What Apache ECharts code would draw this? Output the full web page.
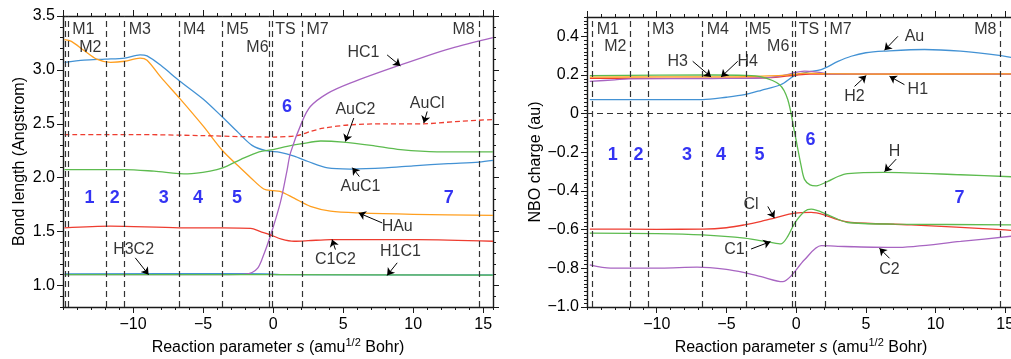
<!DOCTYPE html>
<html>
<head>
<meta charset="utf-8">
<script src="https://cdn.jsdelivr.net/npm/echarts@6/dist/echarts.min.js"></script>
<style>
html, body { margin: 0; padding: 0; background: #fff; }
#main { width: 1011px; height: 359px; }
</style>
</head>
<body>
<div id="main"></div>
<script>
// ---- left panel : bond lengths (Angstrom) vs s ----
var AuC1 = [[-14.9,3.07],[-13.5,3.09],[-12,3.10],[-10.6,3.11],[-9.5,3.14],[-9,3.13],[-8,3.04],[-6.7,2.90],[-5,2.73],[-3.6,2.56],[-2.5,2.42],[-1.5,2.30],[-0.5,2.25],[0.5,2.235],[1.5,2.20],[2.5,2.15],[3.9,2.09],[5.5,2.08],[8,2.09],[10,2.11],[12.5,2.13],[14.7,2.145],[15.7,2.16]];
var HAu = [[-14.9,3.28],[-14.4,3.265],[-13.5,3.18],[-12.6,3.10],[-11.6,3.07],[-10.6,3.08],[-9.5,3.11],[-9,3.09],[-8,2.93],[-6.7,2.74],[-5,2.48],[-3.6,2.25],[-2.5,2.11],[-1.6,2.00],[-0.67,1.895],[0,1.88],[0.5,1.873],[1.5,1.81],[2.66,1.734],[4.1,1.69],[6.2,1.673],[10,1.66],[15.7,1.65]];
var AuCl = [[-14.9,2.40],[-10,2.40],[-5,2.39],[-2,2.38],[0,2.377],[1.7,2.39],[2.7,2.43],[3.6,2.46],[5.5,2.49],[8,2.50],[10.7,2.50],[13,2.52],[15.7,2.54]];
var AuC2 = [[-14.9,2.074],[-12,2.075],[-10.6,2.075],[-8.5,2.06],[-6.1,2.036],[-4.5,2.06],[-3.6,2.09],[-2.3,2.17],[-1,2.24],[0,2.26],[1,2.29],[2.07,2.315],[3.4,2.34],[5,2.33],[7,2.30],[9.1,2.26],[11.7,2.24],[15.7,2.24]];
var HC1 = [[-14.9,1.10],[-5,1.10],[-2,1.105],[-1.5,1.12],[-1.1,1.16],[-0.8,1.24],[-0.2,1.456],[0.52,1.77],[1.0,2.07],[1.24,2.23],[2.07,2.52],[2.66,2.66],[3.86,2.78],[5.5,2.877],[9.1,3.046],[12.7,3.20],[15.7,3.30]];
var C1C2 = [[-14.9,1.534],[-11.6,1.55],[-6.7,1.535],[-3.6,1.535],[-1.6,1.53],[-0.9,1.50],[-0.2,1.47],[0.6,1.43],[1.5,1.41],[2.5,1.415],[4.1,1.426],[10.3,1.426],[15.7,1.41]];
var HC2 = [[-14.9,1.108],[-2,1.11],[-0.5,1.107],[0.5,1.10],[15.7,1.097]];
var H1C1 = [[-14.9,1.10],[0,1.10],[15.7,1.095]];

// ---- right panel : NBO charges ----
var qAu = [[-14.8,0.0725],[-10,0.073],[-6.7,0.073],[-5,0.085],[-3.7,0.098],[-2.5,0.121],[-1.08,0.151],[-0.1,0.197],[0.8,0.215],[1.8,0.228],[3,0.27],[3.95,0.297],[5,0.315],[6.3,0.323],[9.2,0.332],[11.8,0.323],[14.7,0.30],[15.7,0.287]];
var qH1 = [[-14.8,0.189],[-10,0.19],[-5,0.19],[-2.5,0.194],[-1,0.198],[0,0.205],[0.6,0.21],[2,0.207],[5,0.205],[15.7,0.206]];
var qH2 = [[-14.8,0.167],[-13,0.175],[-12,0.18],[-6,0.182],[-3,0.183],[-1.5,0.19],[-0.5,0.205],[0.6,0.22],[1.5,0.215],[2.5,0.205],[15.7,0.204]];
var qH3 = [[-14.8,0.183],[-6,0.183],[-2,0.186],[0,0.2],[1,0.205],[15.7,0.205]];
var qH = [[-14.8,0.197],[-6,0.2],[-3.7,0.198],[-2.5,0.19],[-1.2,0.151],[-0.6,0.073],[-0.1,-0.10],[0.36,-0.27],[0.6,-0.34],[1.0,-0.368],[1.44,-0.373],[2.28,-0.35],[3.0,-0.325],[3.7,-0.31],[6.3,-0.304],[11.8,-0.316],[15.7,-0.327]];
var qCl = [[-14.8,-0.597],[-10,-0.598],[-6.7,-0.597],[-5,-0.59],[-3.7,-0.575],[-2.5,-0.557],[-1.56,-0.54],[-0.1,-0.514],[1.08,-0.511],[2.0,-0.523],[3,-0.548],[3.95,-0.563],[8.25,-0.575],[14.7,-0.60],[15.7,-0.606]];
var qC1 = [[-14.8,-0.618],[-10,-0.62],[-6.7,-0.627],[-3.7,-0.644],[-1.8,-0.666],[-1.08,-0.673],[-0.6,-0.635],[-0.1,-0.566],[0.6,-0.506],[1.08,-0.494],[2.28,-0.523],[3.7,-0.563],[7.05,-0.571],[15.7,-0.575]];
var qC2 = [[-14.8,-0.782],[-13.3,-0.799],[-9.7,-0.799],[-7.1,-0.794],[-5,-0.805],[-3.7,-0.822],[-2.5,-0.843],[-0.96,-0.869],[-0.36,-0.839],[0.6,-0.756],[1.8,-0.683],[3.47,-0.687],[7.05,-0.692],[11.8,-0.661],[15.7,-0.632]];

// stationary points (s positions of dashed lines)
var leftMarks = [-14.85, -14.64, -11.93, -10.62, -6.71, -3.64, -0.31, -0.05, 2.07, 14.69];
var rightMarks = [-14.64, -11.9, -10.6, -6.72, -3.59, -0.31, -0.07, 2.08, 14.67];

// labels: [text, s, value]
var leftPts = [['M1',-14.34,3.37],['M2',-13.84,3.21],['M3',-10.31,3.37],['M4',-6.43,3.37],['M5',-3.34,3.37],['M6',-1.91,3.21],['TS',0.16,3.37],['M7',2.38,3.37],['M8',12.8,3.37]];
var rightPts = [['M1',-14.3,0.435],['M2',-13.76,0.347],['M3',-10.34,0.435],['M4',-6.41,0.435],['M5',-3.4,0.435],['M6',-2.08,0.347],['TS',0.19,0.435],['M7',2.39,0.435],['M8',12.78,0.435]];
var leftNums = [['1',-13.1,1.81],['2',-11.3,1.81],['3',-7.81,1.81],['4',-5.36,1.81],['5',-2.57,1.81],['6',1.0,2.66],['7',12.54,1.81]];
var rightNums = [['1',-13.16,-0.212],['2',-11.3,-0.212],['3',-7.82,-0.212],['4',-5.38,-0.212],['5',-2.63,-0.212],['6',1.03,-0.135],['7',11.72,-0.437]];
var leftText = [['HC1',6.45,3.157],['AuC2',5.88,2.63],['AuCl',11.0,2.69],['AuC1',6.24,1.92],['HAu',8.86,1.549],['C1C2',4.45,1.24],['H1C1',9.09,1.318],['H3C2',-9.96,1.333]];
var rightText = [['H3',-8.49,0.271],['H4',-3.47,0.271],['Au',8.49,0.40],['H2',4.19,0.09],['H1',8.73,0.124],['H',7.06,-0.195],['Cl',-3.23,-0.472],['C1',-4.43,-0.705],['C2',6.7,-0.808]];
// arrows: [s0, v0, s1, v1], head at the second point
var leftArrows = [[8.14,3.139,9.09,3.037],[5.76,2.553,5.16,2.336],[11.0,2.614,10.76,2.507],[6.16,2.01,5.66,2.093],[7.79,1.58,6.11,1.673],[4.45,1.333,4.21,1.426],[8.86,1.21,8.14,1.093],[-9.84,1.256,-8.89,1.10]];
var rightArrows = [[-7.42,0.271,-6.1,0.19],[-4.19,0.271,-5.38,0.19],[7.3,0.40,6.34,0.328],[4.19,0.141,5.03,0.197],[7.77,0.15,6.7,0.193],[7.18,-0.235,6.34,-0.30],[-2.03,-0.48,-1.56,-0.54],[-3.23,-0.70,-1.84,-0.662],[6.7,-0.748,5.98,-0.696]];

var FONT = '"Liberation Sans", Arial, sans-serif';
var INK = '#1a1a1a';
var COL = { blue: '#4392d4', orange: '#ff9f1f', green: '#5dbb4f', red: '#ee3d30', purple: '#a865c2' };

function minus(t) { return String(t).replace('-', '\u2212'); }

var xName = '{a|Reaction parameter }{i|s}{a| (amu}{sup|1/2}{a| Bohr)}';
var xNameStyle = {
	fontFamily: FONT, fontSize: 16, color: '#000',
	rich: {
		a: { fontFamily: FONT, fontSize: 16, color: '#000' },
		i: { fontFamily: FONT, fontSize: 16, color: '#000', fontStyle: 'italic' },
		sup: { fontFamily: FONT, fontSize: 11, color: '#000', padding: [0, 0, 9, 0] }
	}
};

// one value axis; major ones carry the line, minor ones only short ticks
function axis(dim, g, pos, min, max, major, step, extra) {
	var a = {
		type: 'value', gridIndex: g, position: pos, min: min, max: max,
		axisLine: { show: major, onZero: false, lineStyle: { color: INK, width: 1.4 } },
		axisTick: { show: true, inside: false, length: major ? 6 : 3, lineStyle: { color: INK, width: 1 } },
		axisLabel: { show: false },
		splitLine: { show: false },
		silent: true
	};
	if (step) a.interval = step;
	for (var k in extra) a[k] = extra[k];
	return a;
}

function xAxes(g, min, max) {
	return [
		axis('x', g, 'bottom', min, max, true, 5, {
			axisLabel: { show: true, margin: 10, fontSize: 16, fontFamily: FONT, color: '#000',
				showMinLabel: false, showMaxLabel: false, formatter: function (v) { return minus(v); } },
			name: xName, nameLocation: 'middle', nameGap: 28, nameTextStyle: xNameStyle
		}),
		axis('x', g, 'bottom', min, max, false, 1),
		axis('x', g, 'top', min, max, true, 5),
		axis('x', g, 'top', min, max, false, 1)
	];
}

var xAxisList = xAxes(0, -15, 15.7).concat(xAxes(1, -15, 15.7));

var yAxisList = [
	axis('y', 0, 'left', 0.8, 3.5, true, null, {
		splitNumber: 5,
		axisLabel: { show: true, margin: 8, fontSize: 16, fontFamily: FONT, color: '#000',
			showMinLabel: false, formatter: function (v) { return v.toFixed(1); } },
		name: 'Bond length (Angstrom)', nameLocation: 'middle', nameGap: 35,
		nameTextStyle: { fontFamily: FONT, fontSize: 16, color: '#000' }
	}),
	axis('y', 0, 'left', 0.8, 3.5, false, 0.1),
	axis('y', 0, 'right', 0.8, 3.5, true, null, { splitNumber: 5 }),
	axis('y', 0, 'right', 0.8, 3.5, false, 0.1),
	axis('y', 1, 'left', -1, 0.5, true, 0.2, {
		axisLabel: { show: true, margin: 8, fontSize: 16, fontFamily: FONT, color: '#000',
			showMaxLabel: false, formatter: function (v) { return Math.abs(v) < 1e-9 ? '0' : minus(v.toFixed(1)); } },
		name: 'NBO charge (au)', nameLocation: 'middle', nameGap: 31,
		nameTextStyle: { fontFamily: FONT, fontSize: 16, color: '#000' }
	}),
	axis('y', 1, 'left', -1, 0.5, false, 0.02),
	axis('y', 1, 'right', -1, 0.5, true, 0.2),
	axis('y', 1, 'right', -1, 0.5, false, 0.02)
];

function curve(name, data, color, panel, dashed) {
	return {
		name: name, type: 'line', data: data,
		xAxisIndex: panel * 4, yAxisIndex: panel * 4,
		symbol: 'none', showSymbol: false, smooth: 0.3,
		lineStyle: { color: color, width: 1.3, type: dashed ? [5, 3] : 'solid' },
		silent: true, z: 3
	};
}

// text labels as invisible scatter points, dashed stationary lines as markLine
function labels(panel, pts, nums, texts, marks, extraLines) {
	var data = [];
	pts.forEach(function (p) {
		data.push({ name: p[0], value: [p[1], p[2]], label: { align: 'left' } });
	});
	nums.forEach(function (p) {
		data.push({ name: p[0], value: [p[1], p[2]], label: { color: '#0000f0', fontWeight: 'bold', fontSize: 18 } });
	});
	texts.forEach(function (p) {
		data.push({ name: p[0], value: [p[1], p[2]] });
	});
	var ml = marks.map(function (s) { return { xAxis: s }; }).concat(extraLines || []);
	return {
		type: 'scatter', data: data, xAxisIndex: panel * 4, yAxisIndex: panel * 4,
		symbolSize: 1, itemStyle: { color: 'rgba(0,0,0,0)' }, silent: true, z: 5,
		label: { show: true, position: 'inside', formatter: '{b}', fontFamily: FONT, fontSize: 16, color: '#000' },
		markLine: {
			silent: true, symbol: ['none', 'none'], animation: false,
			label: { show: false },
			lineStyle: { color: '#333', type: [6, 4], width: 1.2 },
			data: ml
		}
	};
}

function arrows(panel, list) {
	return {
		type: 'lines', coordinateSystem: 'cartesian2d', xAxisIndex: panel * 4, yAxisIndex: panel * 4,
		symbol: ['none', 'arrow'], symbolSize: 7, silent: true, z: 6,
		lineStyle: { color: '#000', width: 1, opacity: 1, curveness: 0 },
		data: list.map(function (a) { return { coords: [[a[0], a[1]], [a[2], a[3]]] }; })
	};
}

var series = [
	curve('AuC1', AuC1, COL.blue, 0),
	curve('HAu', HAu, COL.orange, 0),
	curve('AuCl', AuCl, COL.red, 0, true),
	curve('AuC2', AuC2, COL.green, 0),
	curve('HC2', HC2, COL.blue, 0),
	curve('HC1', HC1, COL.purple, 0),
	curve('C1C2', C1C2, COL.red, 0),
	curve('H1C1', H1C1, COL.green, 0),
	labels(0, leftPts, leftNums, leftText, leftMarks),
	arrows(0, leftArrows),

	curve('Au', qAu, COL.blue, 1),
	curve('H3', qH3, COL.red, 1),
	curve('H2', qH2, COL.purple, 1),
	curve('H1', qH1, COL.orange, 1),
	curve('H', qH, COL.green, 1),
	curve('Cl', qCl, COL.red, 1),
	curve('C1', qC1, COL.green, 1),
	curve('C2', qC2, COL.purple, 1),
	labels(1, rightPts, rightNums, rightText, rightMarks, [{ yAxis: 0 }]),
	arrows(1, rightArrows)
];

var chart = echarts.init(document.getElementById('main'), null, { renderer: 'canvas' });
chart.setOption({
	backgroundColor: '#fff',
	animation: false,
	grid: [
		{ left: 63, right: 518, top: 16, bottom: 52, containLabel: false, outerBoundsMode: 'none' },
		{ left: 587, right: -4, top: 17, bottom: 52, containLabel: false, outerBoundsMode: 'none' }
	],
	xAxis: xAxisList,
	yAxis: yAxisList,
	series: series
});
</script>
</body>
</html>
